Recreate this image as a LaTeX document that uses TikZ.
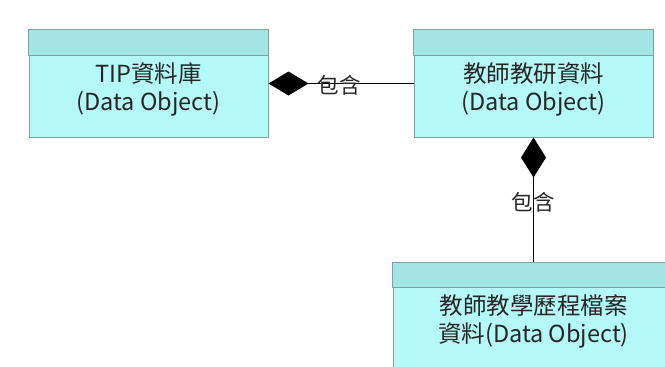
\documentclass[tikz,border=0pt]{standalone}
\usepackage{fontspec}
\setmainfont{Noto Sans CJK TC}
\usetikzlibrary{arrows.meta}
\definecolor{boxfill}{HTML}{B5F8F8}
\definecolor{headfill}{HTML}{A3E4E4}
\definecolor{boxline}{HTML}{7FA3A3}
\definecolor{txt}{HTML}{262626}
\tikzset{
 objbox/.style={draw=boxline, fill=boxfill, line width=1pt, rectangle, inner sep=0pt},
 headbar/.style={draw=boxline, fill=headfill, line width=1pt},
 objtext/.style={text=txt, align=center, inner sep=0pt, font=\fontsize{23.5}{28}\selectfont},
 rel/.style={line width=1.3pt, draw=black},
 lbl/.style={text=txt, inner sep=0pt, font=\fontsize{21.5}{24}\selectfont},
}
\begin{document}
\begin{tikzpicture}[x=1pt,y=-1pt]
\useasboundingbox (0,0) rectangle (665,367);
\clip (0,0) rectangle (665,367);
\fill[white] (0,0) rectangle (665,367);
% boxes
\node[objbox, minimum width=239pt, minimum height=107pt] (b1) at (148.5,83.5) {};
\path[headbar] (b1.north west) rectangle ([yshift=-26pt]b1.north east);
\node[objtext] (t1) at (148.5,89) {TIP資料庫\\(Data Object)};

\node[objbox, minimum width=239pt, minimum height=107pt] (b2) at (533.5,83.5) {};
\path[headbar] (b2.north west) rectangle ([yshift=-26pt]b2.north east);
\node[objtext] (t2) at (533.5,89) {教師教研資料\\(Data Object)};

\node[objbox, minimum width=281pt, minimum height=112pt, anchor=north] (b3) at (533.5,262) {};
\path[headbar] (b3.north west) rectangle ([yshift=-25pt]b3.north east);
\node[objtext] (t3) at (533.5,321) {教師教學歷程檔案\\資料(Data Object)};

% relations
\draw[rel, {Diamond[length=40pt,width=24pt]}-] (b1.east) -- (b2.west);
\node[lbl] (l1) at (339,85) {包含};
\draw[rel, {Diamond[length=40pt,width=25pt]}-] (b2.south) -- (b3.north);
\node[lbl] (l2) at (533,202) {包含};
\end{tikzpicture}
\end{document}
